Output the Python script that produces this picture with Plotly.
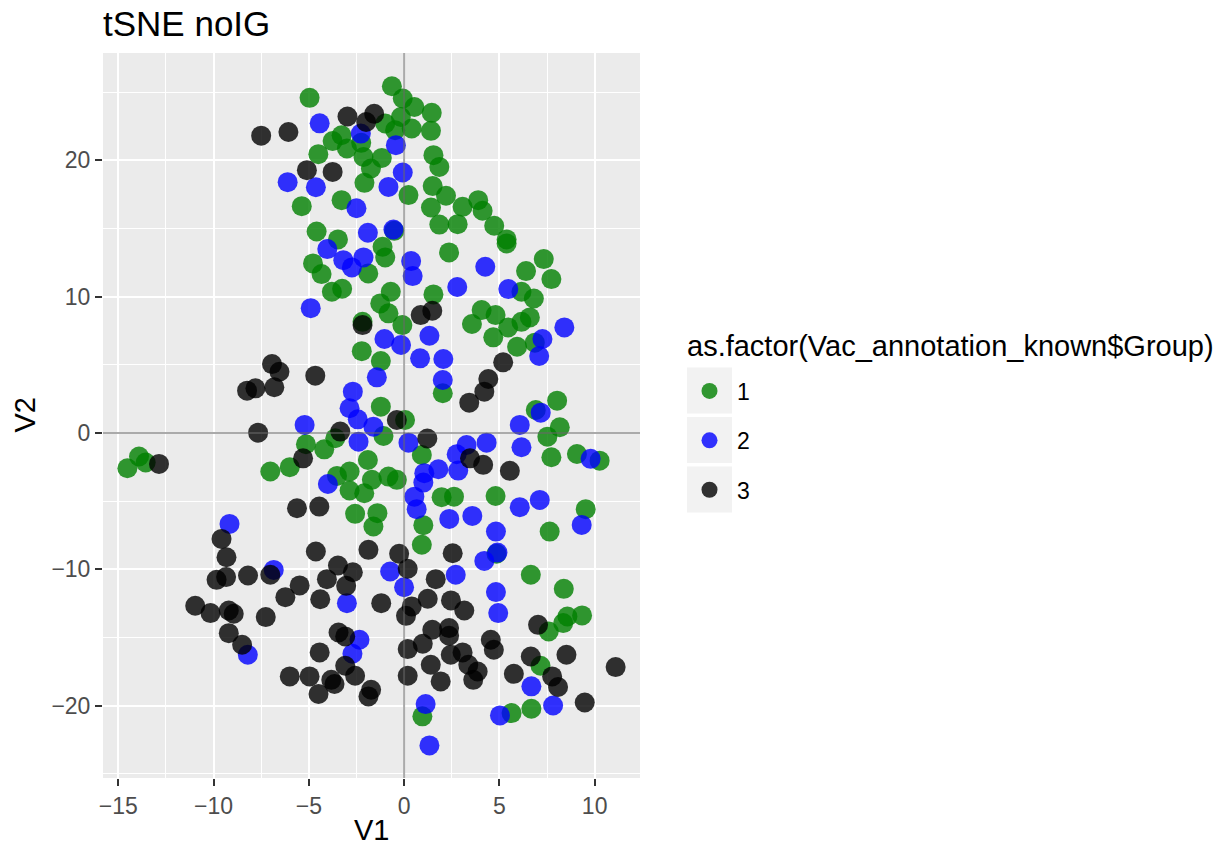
import plotly.graph_objects as go

# ---- data (V1, V2 per group) ----
g1_x = [-4.96, -3.28, -3.75, -3.0, -2.25, -2.13, -4.5, -1.74, -2.08, -5.37, -3.28, -4.59, -3.47, -4.78, -4.33,
        -1.88, -3.79, -3.25, -1.25, -0.64, -0.07, 0.54, 1.45, -0.17, -0.99, -0.47, 0.4, 1.41, -1.17, 1.54,
        1.85, 0.23, 1.5, 2.2, 1.41, 3.07, 3.89, 4.12, 1.85, 2.81, 4.73, -0.52, 5.38, 5.38, -1.13,
        -0.99, 2.36, 7.33, 6.4, 7.73, 6.16, 6.81, -0.7, 1.54, -0.82, -0.09, 4.07, 4.8, 3.56,
        5.46, 6.16, 6.6, 4.68, 5.93, 6.86, -1.22, 2.03, 8.03, 6.91, 8.17, -1.22, 0.05, -1.08, 7.52,
        7.73, 9.07, 10.26, 0.93, -0.82, -0.38, 1.97, 2.62, 4.8, 9.53, 1.01, 7.64, -1.4, -1.61, 0.93,
        -2.18, -2.22, -3.61, -5.15, -4.19, -1.9, -7.02, -6.0, -14.52, -13.91, -13.56, -3.52, -2.86, -2.86, -2.09,
        -1.69, -2.57, 4.85, 6.65, 8.38, 7.59, 8.35, 8.57, 9.34, 7.16, 6.68, 5.64, 0.96]
g1_y = [24.57, 21.83, 21.4, 20.86, 21.27, 20.24, 20.44, 19.39, 18.34, 16.63, 17.07, 14.77, 14.19, 12.43, 11.65,
        11.7, 10.35, 10.57, 9.5, 25.42, 24.52, 23.9, 23.47, 23.17, 22.69, 22.2, 22.32, 22.15, 20.17, 20.37,
        19.51, 17.44, 18.1, 17.39, 16.53, 16.58, 17.07, 16.29, 15.28, 15.31, 15.19, 14.82, 14.19, 13.9, 13.65,
        12.87, 13.24, 12.75, 11.87, 11.28, 10.35, 9.86, 10.35, 10.16, 8.77, 7.91, 9.01, 8.64, 7.99,
        7.74, 8.15, 8.47, 7.01, 6.32, 6.62, 5.27, 2.91, 2.37, 1.68, 0.42, 1.93, 0.95, -0.22, -0.27,
        -1.78, -1.54, -2.03, -1.61, -3.2, -3.44, -4.71, -4.67, -4.62, -5.59, -6.76, -7.23, -5.88, -6.86, -8.2,
        8.15, 6.0, -0.39, -0.83, -1.2, -1.98, -2.83, -2.51, -2.59, -1.73, -2.17, -3.15, -2.83, -4.22, -4.42,
        -3.44, -5.93, -8.86, -10.4, -11.43, -14.56, -13.94, -13.46, -13.38, -17.07, -20.22, -20.54, -20.78]

g2_x = [-4.43, -2.27, -6.11, -4.63, -2.5, -1.9, -4.03, -3.19, -2.13, -2.74, -4.9, -0.43, -0.07, -0.82, -0.56,
        0.37, 0.45, 4.26, 2.79, 5.47, 8.41, 7.26, 7.09, -1.03, -0.16, 1.33, 0.84, 2.06, -1.43, 2.03,
        7.17, -1.61, 6.07, 6.16, 9.79, 0.23, 3.28, 4.33, 2.76, 1.8, 1.06, 2.84, 1.01, 0.54, 0.66,
        6.07, 7.12, 9.32, 2.37, 3.58, 4.82, -2.69, -2.86, -2.43, -2.39, -5.22, -4.0, -9.16, -6.84, -3.0,
        -8.2, -2.34, -2.71, 4.21, 4.9, -0.73, 0.0, 2.71, 4.82, 4.94, 6.68, 7.82, 5.03, 1.13, 1.33]
g2_y = [22.7, 21.95, 18.39, 18.02, 16.48, 14.68, 13.48, 12.67, 12.87, 12.14, 9.15, 21.1, 19.1, 18.04, 14.92,
        12.6, 11.5, 12.19, 10.7, 10.55, 7.74, 6.89, 5.64, 6.89, 6.45, 7.13, 5.47, 5.42, 4.08, 3.88,
        1.49, 0.46, 0.59, -1.05, -1.9, -0.71, -0.88, -0.71, -1.56, -2.66, -2.95, -2.76, -3.64, -4.67, -5.59,
        -5.44, -4.91, -6.74, -6.3, -6.08, -7.23, 3.03, 1.81, 1.0, -0.64, 0.59, -3.74, -6.67, -10.04, -12.48,
        -16.26, -15.16, -16.19, -9.38, -8.77, -10.16, -11.31, -10.4, -11.67, -13.21, -18.58, -19.98, -20.71, -19.88, -22.91]

g3_x = [-2.97, -1.57, -1.99, -7.5, -6.07, -5.1, -3.75, 0.87, 1.48, 5.2, 4.42, 4.21, 3.42, -0.38, 1.22,
        3.46, 4.15, 5.55, -2.18, -6.93, -6.54, -4.66, -8.24, -7.8, -6.81, -7.66, -3.35, -5.3, -12.86, -5.62,
        -4.45, -9.58, -9.32, -4.63, -1.87, -9.84, -9.34, -8.19, -7.02, -5.48, -6.23, -4.05, -3.47, -2.69, -3.04,
        -4.4, -1.2, -10.96, -10.16, -9.2, -8.94, -7.26, -9.2, -8.5, -3.44, -3.09, -4.43, -3.09, -2.57, -6.0,
        -4.96, -3.82, -3.65, -4.49, -1.73, -1.87, -0.26, 2.55, 0.19, 1.66, 0.4, 0.1, 1.24, 2.46, 3.16,
        7.03, 1.48, 2.36, 2.36, 4.55, 4.71, 0.19, 0.98, 2.45, 3.07, 3.37, 3.86, 3.63, 1.4, 0.19,
        1.92, 6.65, 8.52, 5.76, 7.77, 8.08, 11.1, 9.48]
g3_y = [23.2, 23.4, 22.8, 21.8, 22.07, 19.27, 19.14, 8.64, 8.96, 5.18, 3.96, 3.03, 2.22, 0.95, -0.41,
        -1.86, -2.34, -2.78, 7.91, 5.05, 4.49, 4.2, 3.1, 3.27, 3.35, 0.02, 0.1, -1.86, -2.27, -5.52,
        -5.4, -7.77, -9.11, -8.69, -8.57, -10.77, -10.57, -10.45, -10.4, -11.18, -12.04, -10.72, -9.72, -10.21, -11.21,
        -12.19, -12.48, -12.67, -13.21, -13.02, -13.26, -13.5, -14.68, -15.53, -14.63, -14.92, -16.09, -17.07, -17.8, -17.85,
        -17.85, -18.1, -18.41, -19.14, -18.83, -19.32, -8.86, -8.82, -9.96, -10.72, -12.72, -13.41, -12.16, -12.28, -13.02,
        -14.07, -14.43, -14.31, -14.87, -15.16, -15.9, -15.85, -15.46, -16.26, -16.09, -17.0, -17.49, -18.1, -17.0, -17.8,
        -18.22, -16.39, -16.26, -17.66, -17.85, -18.63, -17.17, -19.76]

groups = ["1", "2", "3"]
colors = ["rgb(0,128,0)", "rgb(0,0,255)", "rgb(0,0,0)"]
xs = [g1_x, g2_x, g3_x]
ys = [g1_y, g2_y, g3_y]

FONT = "Liberation Sans, Arial, Helvetica, sans-serif"

fig = go.Figure()
for name, col, x, y in zip(groups, colors, xs, ys):
    fig.add_trace(go.Scatter(
        x=x, y=y, mode="markers", name=name, legendgroup=name,
        marker=dict(size=20, color=col, opacity=0.8, line=dict(width=0)),
        hoverinfo="x+y+name",
    ))

# The page body margin is removed (post_script), so figure pixels == window pixels.
W, H = 1222, 846
PL, PR, PT, PB = 103, 640, 53, 778          # panel edges in window pixels
L, R, T, B = PL, W - PR, PT, H - PB
pw, ph = PR - PL, PB - PT

def px_x(p):   # window pixel x -> paper x
    return (p - PL) / pw

def px_y(p):   # window pixel y -> paper y
    return (PB - p) / ph

shapes = []
# legend key backgrounds
for cy in [390.5, 440.0, 489.5]:
    shapes.append(dict(type="rect", xref="paper", yref="paper",
                       x0=px_x(687), x1=px_x(732), y0=px_y(cy + 23), y1=px_y(cy - 23),
                       fillcolor="#F2F2F2", line=dict(width=0), layer="below"))
# reference lines at 0
shapes.append(dict(type="line", xref="x", yref="paper", x0=0, x1=0, y0=0, y1=1,
                   line=dict(color="rgba(100,100,100,0.55)", width=2), layer="above"))
shapes.append(dict(type="line", xref="paper", yref="y", x0=0, x1=1, y0=0, y1=0,
                   line=dict(color="rgba(100,100,100,0.55)", width=2), layer="above"))

axis_common = dict(
    showline=False, zeroline=False,
    showgrid=True, gridcolor="white", gridwidth=2.1,
    ticks="outside", ticklen=7, tickwidth=2, tickcolor="#333333",
    tickfont=dict(family=FONT, size=23, color="#4D4D4D"),
)

fig.update_layout(
    width=W, height=H,
    margin=dict(l=L, r=R, t=T, b=B, autoexpand=False),
    paper_bgcolor="white", plot_bgcolor="#EBEBEB",
    title=dict(text="tSNE noIG", font=dict(family=FONT, size=35, color="black"),
               xref="container", x=PL / W, xanchor="left",
               yref="container", y=1 - 24 / H, yanchor="middle"),
    xaxis=dict(range=[-15.8, 12.38], tick0=0, dtick=5, **axis_common,
               minor=dict(dtick=2.5, tick0=0, showgrid=True, gridcolor="white", gridwidth=1.07)),
    yaxis=dict(range=[-25.3, 27.86], tick0=0, dtick=10, **axis_common,
               minor=dict(dtick=10, tick0=5, showgrid=True, gridcolor="white", gridwidth=1.07)),
    legend=dict(
        font=dict(family=FONT, size=23, color="black"),
        x=px_x(682), xanchor="left", y=px_y(369.5), yanchor="top",
        bgcolor="rgba(0,0,0,0)", tracegroupgap=16.5, itemwidth=45,
    ),
    shapes=shapes,
    annotations=[
        dict(text="as.factor(Vac_annotation_known$Group)", xref="paper", yref="paper",
             x=px_x(685), y=px_y(346), xanchor="left", yanchor="middle",
             showarrow=False, font=dict(family=FONT, size=29, color="black")),
        dict(text="V1", xref="paper", yref="paper", x=0.5, y=px_y(830), xanchor="center", yanchor="middle",
             showarrow=False, font=dict(family=FONT, size=29, color="black")),
        dict(text="V2", xref="paper", yref="paper", x=px_x(24), y=0.5, xanchor="center", yanchor="middle",
             textangle=-90, showarrow=False, font=dict(family=FONT, size=29, color="black")),
    ],
)

fig.write_html("out.html", config={"displayModeBar": False},
               post_script="document.body.style.margin='0px';")
